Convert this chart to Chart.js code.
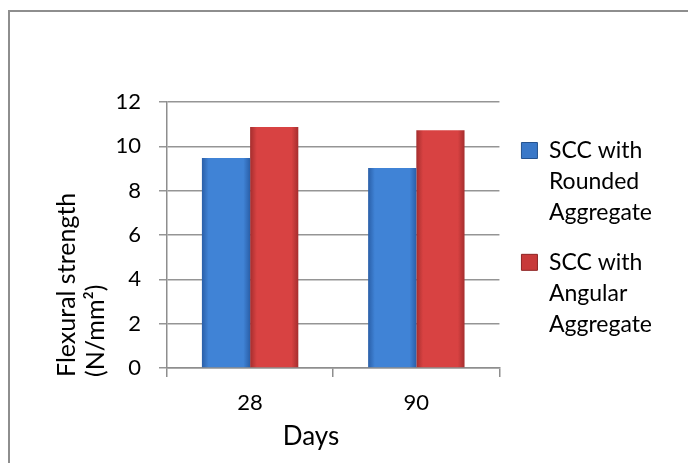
<!DOCTYPE html>
<html lang="en">
  <head>
    <meta charset="UTF-8" />
    <title>Flexural strength</title>
    <script src="https://cdn.jsdelivr.net/npm/chart.js@4.4.1/dist/chart.umd.min.js"></script>
    <style>
      html, body { margin: 0; padding: 0; background: #fff; }
      #frame {
        position: absolute; left: 8px; top: 10px; width: 700px; height: 470px;
        border-left: 2px solid #8e8e8e; border-top: 2px solid #8e8e8e;
      }
      #wrap { position: absolute; left: 0; top: 0; width: 688px; height: 463px; }
    </style>
  </head>
  <body>
    <div id="frame"></div>
    <div id="wrap"><canvas id="myChart"></canvas></div>

    <script>
      // data
      const days = ["28", "90"];
      const rounded = [9.47, 9.02];
      const angular = [10.87, 10.72];
      const yMin = 0, yMax = 12, yStep = 2;
      const seriesNames = [
        ["SCC with", "Rounded", "Aggregate"],
        ["SCC with", "Angular", "Aggregate"]
      ];
      const yTitle = ["Flexural strength", "(N/mm²)"];
      const xTitle = "Days";

      const CAT_PCT = 0.58;
      const FONT = "Lato";

      Chart.defaults.font.family = FONT;
      Chart.defaults.font.size = 22;
      Chart.defaults.color = "#000";

      // darker edges, lighter middle -> a bit like the bevelled excel bars
      function bevel(edge, mid) {
        return function (c) {
          var chart = c.chart, xs = chart.scales.x;
          if (!xs || c.type !== "data" || !(xs.width > 0)) return mid;
          var bw = (xs.width / days.length) * CAT_PCT / 2;
          var left = xs.getPixelForValue(c.dataIndex) - bw + c.datasetIndex * bw;
          var g = chart.ctx.createLinearGradient(left, 0, left + bw, 0);
          g.addColorStop(0, edge);
          g.addColorStop(0.14, mid);
          g.addColorStop(0.86, mid);
          g.addColorStop(1, edge);
          return g;
        };
      }

      var legendFill = ["#3a78c8", "#c83a3a"];
      var legendEdge = ["#24528f", "#8e2424"];

      const axisTitles = {
        id: "axisTitles",
        afterLayout(chart) {
          // park the legend next to the plot like in the excel picture
          var a = chart.chartArea, lg = chart.legend;
          var w = lg.right - lg.left;
          lg.left = a.right + 4;
          lg.right = lg.left + w;
          lg.top = a.top + 19;
        },
        afterDraw(chart) {
          var ctx = chart.ctx, a = chart.chartArea;
          ctx.save();
          ctx.fillStyle = "#000";
          ctx.font = "25px " + FONT;
          ctx.textAlign = "left";
          ctx.textBaseline = "alphabetic";
          yTitle.forEach(function (t, i) {
            ctx.save();
            ctx.translate(a.left - 92 + i * 29, a.bottom + 9);
            ctx.rotate(-Math.PI / 2);
            ctx.fillText(t, 0, 0);
            ctx.restore();
          });
          ctx.font = "26px " + FONT;
          ctx.textAlign = "center";
          ctx.textBaseline = "middle";
          ctx.fillText(xTitle, a.left + 144, a.bottom + 69);
          ctx.restore();
        }
      };

      var ctx = document.getElementById("myChart").getContext("2d");
      var chart = new Chart(ctx, {
        type: "bar",
        data: {
          labels: days,
          datasets: [
            {
              label: seriesNames[0],
              data: rounded,
              backgroundColor: bevel("#2a5fa8", "#4083d6"),
              borderWidth: 0
            },
            {
              label: seriesNames[1],
              data: angular,
              backgroundColor: bevel("#a52e2e", "#d84242"),
              borderWidth: 0
            }
          ]
        },
        options: {
          responsive: true,
          maintainAspectRatio: false,
          animation: false,
          layout: { padding: { top: 102, right: 30, left: 0, bottom: 0 } },
          datasets: { bar: { categoryPercentage: CAT_PCT, barPercentage: 1 } },
          scales: {
            x: {
              afterFit: function (s) { s.height = 95; },
              grid: { offset: true, drawOnChartArea: false, drawTicks: true, tickLength: 9, color: "#8e8e8e", lineWidth: 1.5 },
              border: { display: true, color: "#8e8e8e", width: 1.5 },
              ticks: { padding: 13, font: { size: 22 } }
            },
            y: {
              min: yMin,
              max: yMax,
              afterFit: function (s) { s.width = 167; },
              grid: { drawTicks: true, tickLength: 8, color: "#959595", lineWidth: 1.5 },
              border: { display: true, color: "#8e8e8e", width: 1.5 },
              ticks: { stepSize: yStep, padding: 18, font: { size: 22 } }
            }
          },
          plugins: {
            tooltip: { enabled: false },
            legend: {
              position: "right",
              align: "start",
              labels: {
                boxWidth: 16,
                boxHeight: 16,
                padding: 18,
                font: { size: 23, lineHeight: 1.36 },
                generateLabels: function (chart) {
                  var items = Chart.defaults.plugins.legend.labels.generateLabels(chart);
                  items.forEach(function (it, i) {
                    it.fillStyle = legendFill[i];
                    it.strokeStyle = legendEdge[i];
                    it.lineWidth = 1;
                  });
                  return items;
                }
              }
            }
          }
        },
        plugins: [axisTitles]
      });
    </script>
  </body>
</html>
